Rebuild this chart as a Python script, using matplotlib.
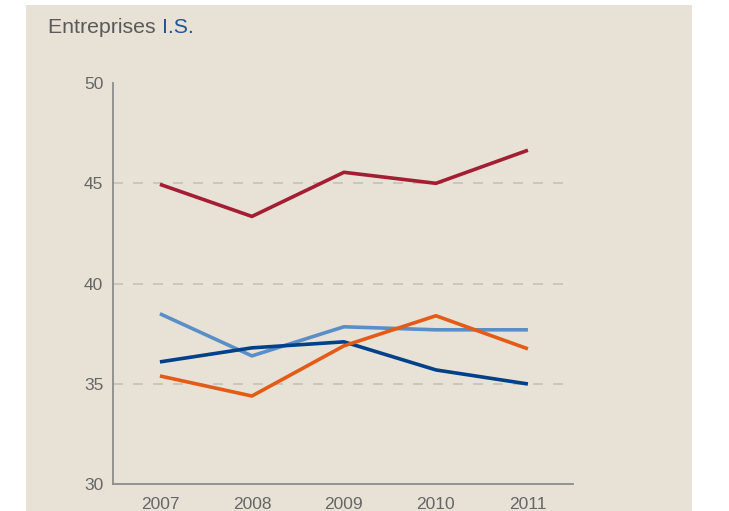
import matplotlib
matplotlib.use("Agg")
import matplotlib.pyplot as plt
from matplotlib.patches import Rectangle

# Data
years = [2007, 2008, 2009, 2010, 2011]
series_red = [44.95, 43.35, 45.55, 45.0, 46.65]
series_lightblue = [38.5, 36.4, 37.85, 37.7, 37.7]
series_darkblue = [36.1, 36.8, 37.1, 35.7, 35.0]
series_orange = [35.4, 34.4, 36.9, 38.4, 36.75]
y_ticks = [30, 35, 40, 45, 50]
grid_levels = [35, 40, 45]

BG = "#e8e2d6"
AXIS = "#8c8c8c"
TEXT = "#666666"

plt.rcParams["font.family"] = ["Liberation Sans", "DejaVu Sans"]

W, H = 729, 511
fig = plt.figure(figsize=(W / 100, H / 100), dpi=100)
fig.patch.set_facecolor("white")

# beige panel behind the chart
fig.patches.append(Rectangle((26 / W, 0), (692 - 26) / W, (H - 5) / H,
                             transform=fig.transFigure, facecolor=BG,
                             edgecolor="none", zorder=-5))

ax = fig.add_axes([113 / W, 1 - 484.3 / H, (573 - 113) / W, (484.3 - 83) / H])
ax.set_facecolor("none")
ax.set_zorder(2)

for lvl in grid_levels:
    ax.axhline(lvl, color="#c4c0b8", lw=1.2, ls=(0, (6, 6)), zorder=1)

lw = 2.6
ax.plot(years, series_red, color="#a31d33", lw=lw, solid_capstyle="butt", zorder=3)
ax.plot(years, series_lightblue, color="#5a8ec8", lw=lw, solid_capstyle="butt", zorder=3)
ax.plot(years, series_darkblue, color="#00418a", lw=lw, solid_capstyle="butt", zorder=4)
ax.plot(years, series_orange, color="#e35b16", lw=lw, solid_capstyle="butt", zorder=5)

ax.set_xlim(2006.49, 2011.49)
ax.set_ylim(30, 50)
ax.set_xticks(years)
ax.set_xticklabels([str(y) for y in years])
ax.set_yticks(y_ticks)

for s in ["top", "right"]:
    ax.spines[s].set_visible(False)
for s in ["left", "bottom"]:
    ax.spines[s].set_color(AXIS)
    ax.spines[s].set_linewidth(1.3)

ax.tick_params(axis="both", length=0, labelsize=12.5, colors=TEXT)
ax.tick_params(axis="y", pad=7)
ax.tick_params(axis="x", pad=9)

# title in two colours
t1 = fig.text(48 / W, 1 - 33 / H, "Entreprises ", fontsize=15.3, color="#5a5a5a",
              ha="left", va="baseline")
fig.canvas.draw()
bb = t1.get_window_extent(renderer=fig.canvas.get_renderer())
fig.text(bb.x1 / W, 1 - 33 / H, "I.S.", fontsize=15.3, color="#1f5495",
         ha="left", va="baseline")

fig.savefig("out.png", dpi=100, facecolor=fig.get_facecolor())
